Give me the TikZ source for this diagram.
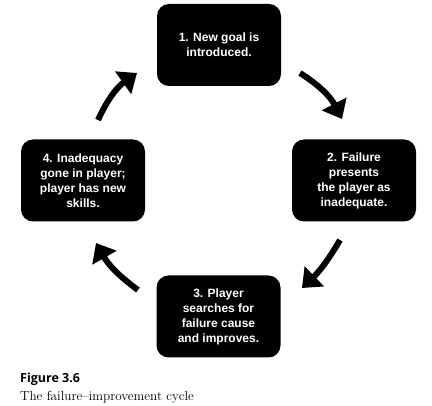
\documentclass[tikz,border=0pt]{standalone}
\usepackage{fontspec}
\newfontfamily\boxfont{Liberation Sans}
\newfontfamily\figfont{Open Sans}
\usetikzlibrary{arrows.meta,positioning}

\begin{document}
\begin{tikzpicture}[x=1pt, y=-1pt,
  stage/.style={fill=black, rounded corners=12pt, minimum width=124pt, minimum height=82pt,
    text=white, align=center, inner sep=2pt, font=\boxfont\bfseries\fontsize{12}{15}\selectfont},
  cyc/.style={line width=6pt, -{Triangle[length=17pt,width=27pt]}, bend left=15}]

\useasboundingbox (0,0) rectangle (432,406);

% the four stages
\node [stage] (goal) at (219,45) {1. New goal is\\introduced.};
\node [stage] (fail) at (354,180.5) {2. Failure\\presents\\the player as\\inadequate.};
\node [stage] (search) at (218.5,316.5) {3. Player\\searches for\\failure cause\\and improves.};
\node [stage] (skill) at (83,180.5) {4. Inadequacy\\gone in player;\\player has new\\skills.};

% arrow ends
\coordinate (a1s) at (300,73);
\coordinate (a1e) at (342,119);
\coordinate (a2s) at (340,240);
\coordinate (a2e) at (302,288);
\coordinate (a3s) at (138,290);
\coordinate (a3e) at (96,243);
\coordinate (a4s) at (98,120);
\coordinate (a4e) at (137,73);

\draw [cyc] (a1s) to (a1e);
\draw [cyc, bend left=8] (a2s) to (a2e);
\draw [cyc, bend left=12] (a3s) to (a3e);
\draw [cyc] (a4s) to (a4e);

% caption
\node [anchor=base west, inner sep=0pt] (fig) at (20,383) {\figfont\bfseries\fontsize{12.5}{14}\selectfont Figure 3.6};
\node [anchor=base west, inner sep=0pt] (cap) at (20,401) {\fontsize{13.2}{15}\selectfont The failure--improvement cycle};

\end{tikzpicture}
\end{document}
